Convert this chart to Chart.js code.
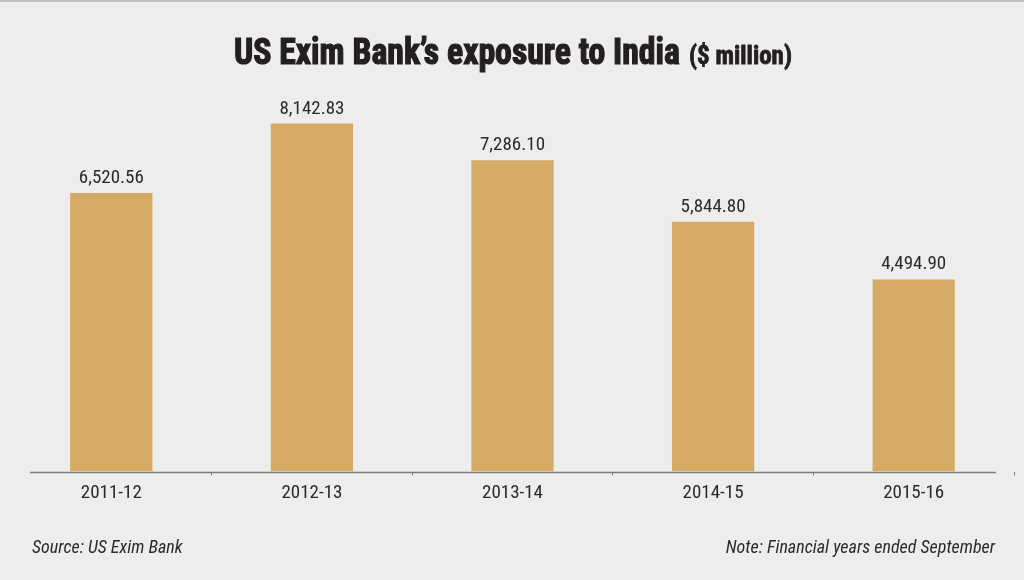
<!DOCTYPE html>
<html>
<head>
<meta charset="utf-8">
<script src="https://cdn.jsdelivr.net/npm/chart.js@4/dist/chart.umd.min.js"></script>
<style>
  html, body { margin: 0; padding: 0; background: #eeeded; }
  #wrap { width: 1024px; height: 580px; position: relative; }
</style>
</head>
<body>
<div id="wrap"><canvas id="c"></canvas></div>
<script>
const categories = ['2011-12', '2012-13', '2013-14', '2014-15', '2015-16'];
const exposure = [6520.56, 8142.83, 7286.10, 5844.80, 4494.90];
const valueLabels = ['6,520.56', '8,142.83', '7,286.10', '5,844.80', '4,494.90'];
const titleMain = 'US Exim Bank\u2019s exposure to India';
const titleUnit = '($ million)';
const sourceText = 'Source: US Exim Bank';
const noteText = 'Note: Financial years ended September';

const NARROW = "'Liberation Sans Narrow', 'Roboto Condensed', 'DejaVu Sans Condensed', sans-serif";

const decor = {
  id: 'decor',
  beforeDraw(chart) {
    const ctx = chart.ctx;
    ctx.save();
    ctx.fillStyle = '#eeeded';
    ctx.fillRect(0, 0, chart.width, chart.height);
    ctx.fillStyle = '#c4c3c3';
    ctx.fillRect(0, 0, chart.width, 2);
    ctx.restore();
  },
  afterDatasetsDraw(chart) {
    const ctx = chart.ctx;
    const y = chart.scales.y;
    ctx.save();
    const y0 = Math.round(y.getPixelForValue(0)) + 0.5;
    ctx.strokeStyle = '#7d7c7c';
    ctx.lineWidth = 1.5;
    ctx.beginPath();
    ctx.moveTo(30, y0);
    ctx.lineTo(996, y0);
    ctx.stroke();
    ctx.fillStyle = '#2b2a2a';
    ctx.font = '19px ' + NARROW;
    ctx.textAlign = 'center';
    ctx.textBaseline = 'alphabetic';
    const meta = chart.getDatasetMeta(0);
    meta.data.forEach((bar, i) => {
      ctx.fillText(valueLabels[i], bar.x, bar.y - 10);
    });
    ctx.restore();
  },
  afterDraw(chart) {
    const ctx = chart.ctx;
    ctx.save();
    ctx.fillStyle = '#231f20';
    ctx.textBaseline = 'alphabetic';
    ctx.textAlign = 'left';
    ctx.font = 'bold 36px ' + NARROW;
    let w = ctx.measureText(titleMain).width;
    let sx = 446 / w;
    ctx.save();
    ctx.translate(234, 64);
    ctx.scale(sx, 1);
    ctx.strokeStyle = '#231f20';
    ctx.lineWidth = 1.2;
    ctx.fillText(titleMain, 0, 0);
    ctx.strokeText(titleMain, 0, 0);
    ctx.restore();
    ctx.font = 'bold 25px ' + NARROW;
    w = ctx.measureText(titleUnit).width;
    sx = 103 / w;
    ctx.save();
    ctx.translate(689, 64);
    ctx.scale(sx, 1);
    ctx.strokeStyle = '#231f20';
    ctx.lineWidth = 0.8;
    ctx.fillText(titleUnit, 0, 0);
    ctx.strokeText(titleUnit, 0, 0);
    ctx.restore();
    ctx.fillStyle = '#2b2a2a';
    ctx.font = 'italic 18px ' + NARROW;
    ctx.textAlign = 'left';
    ctx.fillText(sourceText, 32, 553);
    ctx.textAlign = 'right';
    ctx.fillText(noteText, 995, 553);
    ctx.restore();
  }
};

new Chart(document.getElementById('c'), {
  type: 'bar',
  data: {
    labels: categories,
    datasets: [{
      data: exposure,
      backgroundColor: '#d4aa65',
      borderWidth: 0,
      barPercentage: 0.41,
      categoryPercentage: 1.0
    }]
  },
  options: {
    responsive: true,
    maintainAspectRatio: false,
    animation: false,
    devicePixelRatio: 1,
    layout: { padding: { top: 87, left: 11, right: 10, bottom: 68.7 } },
    plugins: {
      legend: { display: false },
      title: { display: false },
      tooltip: { enabled: false }
    },
    scales: {
      x: {
        offset: true,
        border: { display: false },
        grid: {
          offset: true,
          drawOnChartArea: false,
          drawTicks: true,
          tickLength: 4,
          lineWidth: 1,
          color: (ctx) => (ctx.index === 0 || ctx.index === categories.length) ? 'rgba(0,0,0,0)' : '#7d7c7c'
        },
        ticks: {
          color: '#2b2a2a',
          padding: 6.5,
          font: { family: NARROW, size: 19 }
        }
      },
      y: {
        display: false,
        min: 0,
        max: 9000
      }
    }
  },
  plugins: [decor]
});
</script>
</body>
</html>
